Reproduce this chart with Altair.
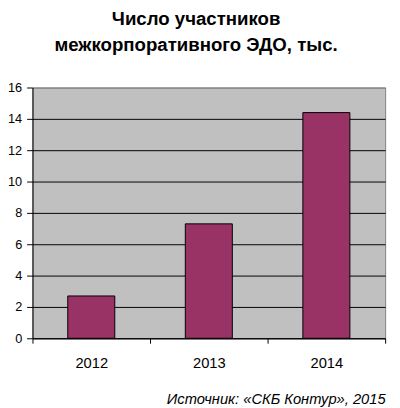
import altair as alt
import pandas as pd

years = ["2012", "2013", "2014"]
values = [2.7, 7.3, 14.4]
y_ticks = [0, 2, 4, 6, 8, 10, 12, 14, 16]
title_lines = ["Число участников", "межкорпоративного ЭДО, тыс."]
source_text = "Источник: «СКБ Контур», 2015"

df = pd.DataFrame({"year": years, "value": values})

font = "Liberation Sans"

chart = alt.Chart(df).mark_bar(
    color="#993366", stroke="black", strokeWidth=1,
    width=alt.RelativeBandSize(0.4)
).encode(
    x=alt.X("year:N", title=source_text,
            scale=alt.Scale(paddingInner=0, paddingOuter=0),
            axis=alt.Axis(labelAngle=0, tickBand="extent", tickSize=5,
                          tickColor="black", domainColor="black",
                          labelFont=font, labelFontSize=15, labelColor="black",
                          labelPadding=13,
                          titleFont=font, titleFontSize=15, titleFontStyle="italic",
                          titleFontWeight="normal", titleColor="black",
                          titleAnchor="end", titleAlign="right", titlePadding=22)),
    y=alt.Y("value:Q", title=None,
            scale=alt.Scale(domain=[0, 16], nice=False),
            axis=alt.Axis(values=y_ticks, tickSize=6, tickColor="black",
                          domainColor="black", labelFont=font, labelFontSize=13,
                          labelColor="black", labelPadding=5,
                          grid=True,
                          gridColor=alt.condition(alt.datum.value == 16,
                                                  alt.value("#808080"),
                                                  alt.value("black")),
                          gridOpacity=1, gridWidth=1)),
).properties(
    width=360, height=256,
    title=alt.TitleParams(title_lines, font=font, fontSize=19, fontWeight="bold",
                          color="black", lineHeight=27, anchor="middle", offset=27,
                          dx=-13),
    padding={"left": 25, "top": 77, "right": 7, "bottom": 67},
    autosize=alt.AutoSizeParams(type="none"),
).configure(background="white").configure_view(
    fill="#c0c0c0", stroke="#808080", strokeWidth=1
)

chart.save("out.html", embed_options={"renderer": "svg", "actions": False})
